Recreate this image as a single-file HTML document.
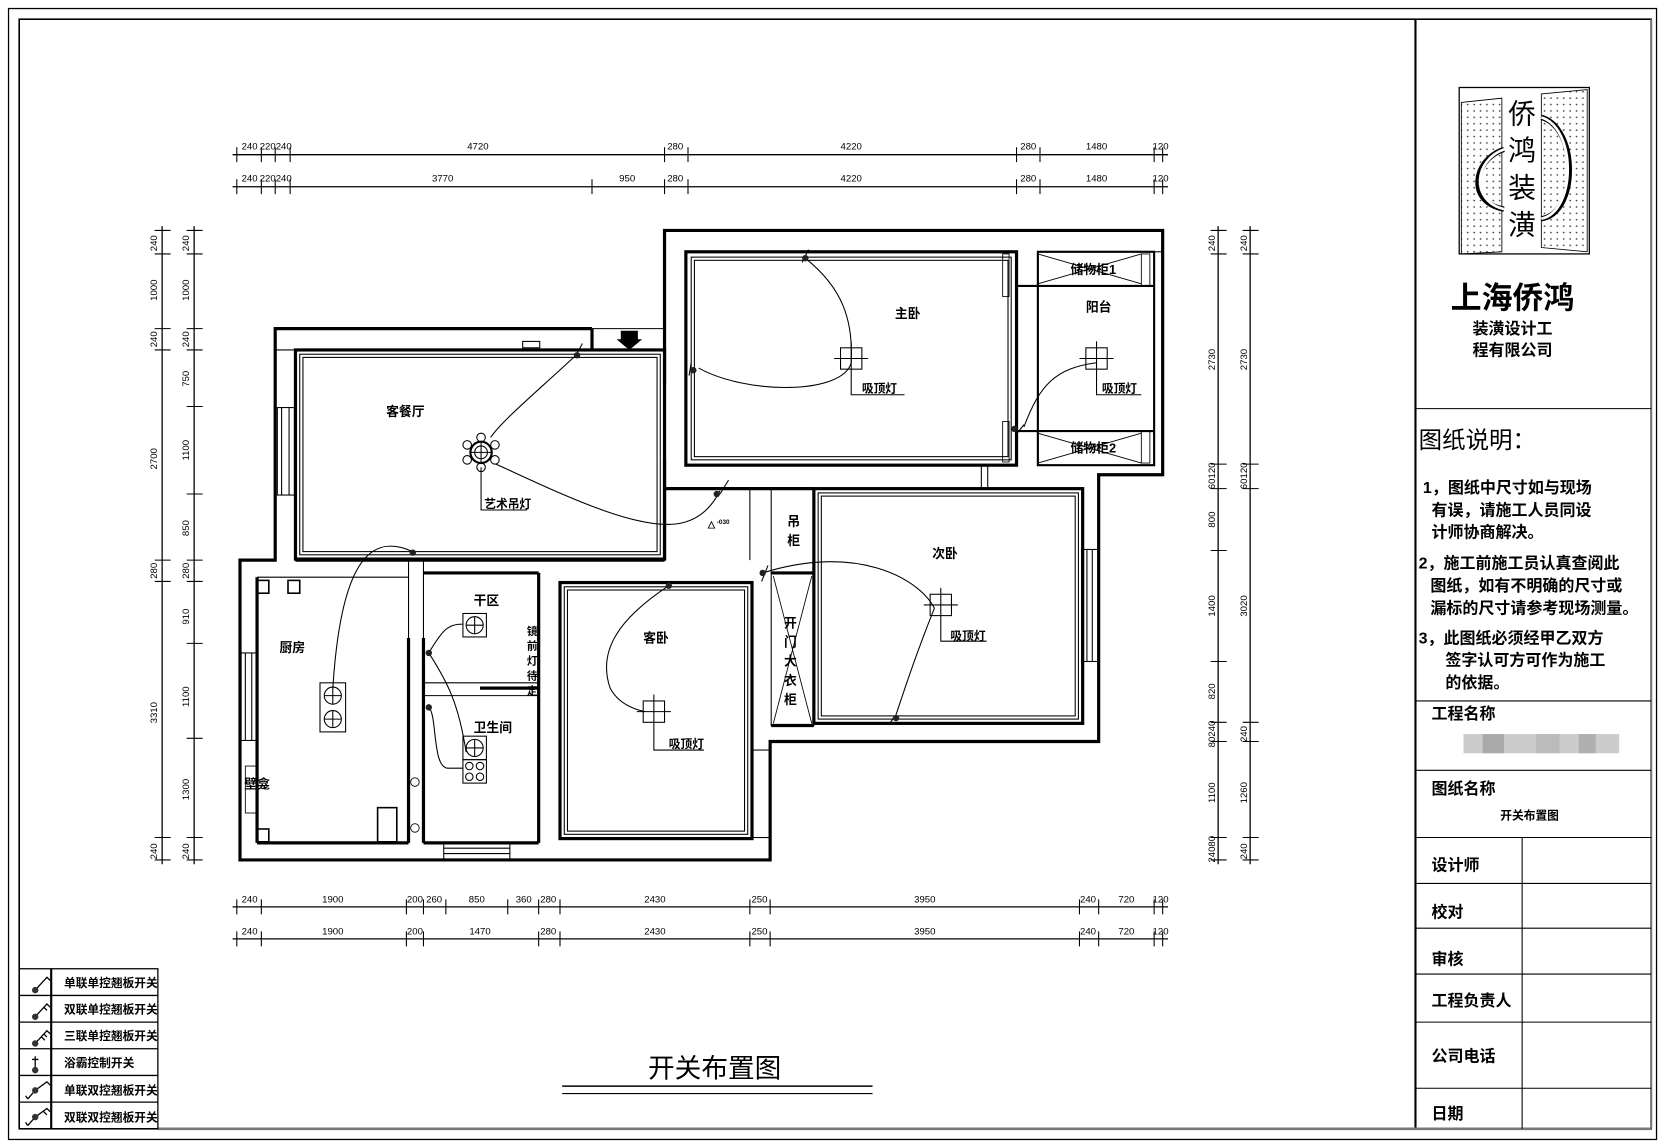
<!DOCTYPE html>
<html><head><meta charset="utf-8"><style>
html,body{margin:0;padding:0;background:#fff;}
svg{display:block;}
text{font-family:"Liberation Sans","Noto Sans CJK SC",sans-serif;fill:#000;}
.b{font-weight:bold;}
</style></head><body>
<svg width="1664" height="1148" viewBox="0 0 1560 1076" preserveAspectRatio="none" xmlns="http://www.w3.org/2000/svg">
<rect x="0" y="0" width="1560" height="1076" fill="#fff"/>
<!-- frames -->
<rect x="8" y="8" width="1545" height="1060" fill="none" stroke="#000" stroke-width="1.2"/>
<rect x="18" y="18" width="1530" height="1040" fill="none" stroke="#000" stroke-width="1.5"/>
<line x1="1327" y1="18" x2="1327" y2="1058" stroke="#000" stroke-width="2"/>
<line x1="1548" y1="18" x2="1548" y2="1058" stroke="#777" stroke-width="2"/>
<line x1="148" y1="1058" x2="1548" y2="1058" stroke="#777" stroke-width="2.5"/>
<!-- title block -->
<g stroke="#000" stroke-width="1">
<line x1="1327" y1="383" x2="1548" y2="383"/>
<line x1="1327" y1="657" x2="1548" y2="657"/>
<line x1="1327" y1="722" x2="1548" y2="722"/>
<line x1="1327" y1="785" x2="1548" y2="785"/>
<line x1="1327" y1="828" x2="1548" y2="828"/>
<line x1="1327" y1="870" x2="1548" y2="870"/>
<line x1="1327" y1="913" x2="1548" y2="913"/>
<line x1="1327" y1="958" x2="1548" y2="958"/>
<line x1="1327" y1="1020" x2="1548" y2="1020"/>
<line x1="1427" y1="785" x2="1427" y2="1058"/>
</g>
<!-- logo -->
<defs><pattern id="dots" width="6" height="6" patternUnits="userSpaceOnUse"><circle cx="2" cy="2" r="0.8" fill="#444"/></pattern></defs>
<rect x="1368" y="82" width="122" height="156" fill="none" stroke="#000" stroke-width="1.2"/>
<polygon points="1370,96 1408,92 1408,236 1370,238" fill="url(#dots)" stroke="#000" stroke-width="0.8"/>
<polygon points="1445,88 1488,84 1488,236 1445,232" fill="url(#dots)" stroke="#000" stroke-width="0.8"/>
<path d="M1410,140 C1380,150 1375,190 1410,196" fill="none" stroke="#000" stroke-width="5"/>
<path d="M1445,110 C1480,120 1480,200 1445,205" fill="none" stroke="#000" stroke-width="5"/>
<path d="M1410,140 C1382,150 1378,188 1410,196" fill="none" stroke="#fff" stroke-width="2.5"/>
<path d="M1445,110 C1478,120 1478,198 1445,205" fill="none" stroke="#fff" stroke-width="2.5"/>
<text x="1427" y="116" font-size="26" text-anchor="middle">侨</text>
<text x="1427" y="150" font-size="26" text-anchor="middle">鸿</text>
<text x="1427" y="185" font-size="26" text-anchor="middle">装</text>
<text x="1427" y="220" font-size="26" text-anchor="middle">潢</text>
<text x="1418" y="289" font-size="29" class="b" text-anchor="middle">上海侨鸿</text>
<text x="1418" y="313" font-size="15" class="b" text-anchor="middle">装潢设计工</text>
<text x="1418" y="333" font-size="15" class="b" text-anchor="middle">程有限公司</text>
<text x="1330" y="420" font-size="22">图纸说明：</text>
<g font-size="15" class="b">
<text x="1334" y="462">1，图纸中尺寸如与现场</text>
<text x="1342" y="483">有误，请施工人员同设</text>
<text x="1342" y="504">计师协商解决。</text>
<text x="1330" y="533">2，施工前施工员认真查阅此</text>
<text x="1341" y="554">图纸，如有不明确的尺寸或</text>
<text x="1341" y="575">漏标的尺寸请参考现场测量。</text>
<text x="1330" y="603">3，此图纸必须经甲乙双方</text>
<text x="1355" y="624">签字认可方可作为施工</text>
<text x="1355" y="645">的依据。</text>
<text x="1342" y="674">工程名称</text>
<text x="1342" y="744">图纸名称</text>
<text x="1342" y="816">设计师</text>
<text x="1342" y="860">校对</text>
<text x="1342" y="904">审核</text>
<text x="1342" y="943">工程负责人</text>
<text x="1342" y="995">公司电话</text>
<text x="1342" y="1049">日期</text>
</g>
<rect x="1372" y="688" width="146" height="18" fill="#ccc"/>
<rect x="1390" y="688" width="20" height="18" fill="#aaa"/><rect x="1440" y="688" width="22" height="18" fill="#bbb"/><rect x="1480" y="688" width="16" height="18" fill="#b0b0b0"/>
<text x="1434" y="768" font-size="11" class="b" text-anchor="middle">开关布置图</text>

<!-- legend -->
<g stroke="#000" stroke-width="1.2" fill="none">
<rect x="18" y="908" width="130" height="150"/>
<line x1="48" y1="908" x2="48" y2="1058" stroke-width="2"/>
<line x1="18" y1="933" x2="148" y2="933"/><line x1="18" y1="958" x2="148" y2="958"/>
<line x1="18" y1="983" x2="148" y2="983"/><line x1="18" y1="1008" x2="148" y2="1008"/>
<line x1="18" y1="1033" x2="148" y2="1033"/>
<path d="M33,928 L44,916 L47,919"/><path d="M33,953 L44,941 L47,944 M41,944 L44,947"/>
<path d="M33,978 L44,966 L47,969 M41,969 L44,972 M39,972 L42,975"/>
<path d="M33,990 L33,1002 M30,993 L36,993"/>
<path d="M26,1030 L33,1022 L44,1014 L47,1017 M26,1030 L24,1027"/>
<path d="M26,1055 L33,1047 L44,1039 L47,1042 M41,1042 L44,1045 M26,1055 L24,1052"/>
</g>
<g fill="#333"><circle cx="33" cy="928" r="3"/><circle cx="33" cy="953" r="3"/><circle cx="33" cy="978" r="3"/><circle cx="33" cy="1003" r="3"/><circle cx="33" cy="1022" r="3"/><circle cx="33" cy="1047" r="3"/></g>
<g font-size="11" class="b">
<text x="60" y="925">单联单控翘板开关</text><text x="60" y="950">双联单控翘板开关</text>
<text x="60" y="975">三联单控翘板开关</text><text x="60" y="1000">浴霸控制开关</text>
<text x="60" y="1026">单联双控翘板开关</text><text x="60" y="1051">双联双控翘板开关</text>
</g>
<text x="670" y="1010" font-size="25" text-anchor="middle">开关布置图</text>
<line x1="527" y1="1018" x2="818" y2="1018" stroke="#000" stroke-width="1.5"/>
<line x1="527" y1="1025" x2="818" y2="1025" stroke="#000" stroke-width="1"/>

<!-- dimensions -->
<g stroke="#000" stroke-width="1.2">
<line x1="218" y1="145" x2="1095" y2="145"/><line x1="218" y1="175" x2="1095" y2="175"/>
<line x1="218" y1="850" x2="1095" y2="850"/><line x1="218" y1="880" x2="1095" y2="880"/>
<line x1="152" y1="212" x2="152" y2="810"/><line x1="182" y1="212" x2="182" y2="810"/>
<line x1="1142" y1="212" x2="1142" y2="810"/><line x1="1172" y1="212" x2="1172" y2="810"/>
</g>
<g stroke="#000" stroke-width="1">
<path d="M222,138V152M245,138V152M258,138V152M272,138V152M623,138V152M645,138V152M953,138V152M975,138V152M1082,138V152M1090,138V152"/>
<path d="M222,168V182M245,168V182M258,168V182M272,168V182M555,168V182M623,168V182M645,168V182M953,168V182M975,168V182M1082,168V182M1090,168V182"/>
<path d="M222,843V857M245,843V857M381,843V857M397,843V857M418,843V857M476,843V857M505,843V857M525,843V857M703,843V857M722,843V857M1012,843V857M1030,843V857M1082,843V857M1090,843V857"/>
<path d="M222,873V887M245,873V887M381,873V887M397,873V887M505,873V887M525,873V887M703,873V887M722,873V887M1012,873V887M1030,873V887M1082,873V887M1090,873V887"/>
<path d="M145,216H160M145,238H160M145,308H160M145,328H160M145,525H160M145,545H160M145,785H160M145,806H160"/>
<path d="M175,216H190M175,238H190M175,308H190M175,328H190M175,381H190M175,463H190M175,525H190M175,545H190M175,603H190M175,692H190M175,785H190M175,806H190"/>
<path d="M1135,216H1150M1135,238H1150M1135,435H1150M1135,458H1150M1135,516H1150M1135,620H1150M1135,677H1150M1135,695H1150M1135,785H1150M1135,806H1150"/>
<path d="M1165,216H1180M1165,238H1180M1165,435H1180M1165,458H1180M1165,677H1180M1165,695H1180M1165,785H1180M1165,806H1180"/>
</g>
<g font-size="9" text-anchor="middle">
<text x="234" y="140">240</text><text x="251" y="140">220</text><text x="266" y="140">240</text><text x="448" y="140">4720</text><text x="633" y="140">280</text><text x="798" y="140">4220</text><text x="964" y="140">280</text><text x="1028" y="140">1480</text><text x="1088" y="140">120</text>
<text x="234" y="170">240</text><text x="251" y="170">220</text><text x="266" y="170">240</text><text x="415" y="170">3770</text><text x="588" y="170">950</text><text x="633" y="170">280</text><text x="798" y="170">4220</text><text x="964" y="170">280</text><text x="1028" y="170">1480</text><text x="1088" y="170">120</text>
<text x="234" y="846">240</text><text x="312" y="846">1900</text><text x="389" y="846">200</text><text x="407" y="846">260</text><text x="447" y="846">850</text><text x="491" y="846">360</text><text x="514" y="846">280</text><text x="614" y="846">2430</text><text x="712" y="846">250</text><text x="867" y="846">3950</text><text x="1020" y="846">240</text><text x="1056" y="846">720</text><text x="1088" y="846">120</text>
<text x="234" y="876">240</text><text x="312" y="876">1900</text><text x="389" y="876">200</text><text x="450" y="876">1470</text><text x="514" y="876">280</text><text x="614" y="876">2430</text><text x="712" y="876">250</text><text x="867" y="876">3950</text><text x="1020" y="876">240</text><text x="1056" y="876">720</text><text x="1088" y="876">120</text>
</g>
<g font-size="9" text-anchor="middle">
<text transform="translate(147,228) rotate(-90)">240</text><text transform="translate(147,272) rotate(-90)">1000</text><text transform="translate(147,318) rotate(-90)">240</text><text transform="translate(147,430) rotate(-90)">2700</text><text transform="translate(147,535) rotate(-90)">280</text><text transform="translate(147,668) rotate(-90)">3310</text><text transform="translate(147,798) rotate(-90)">240</text>
<text transform="translate(177,228) rotate(-90)">240</text><text transform="translate(177,272) rotate(-90)">1000</text><text transform="translate(177,318) rotate(-90)">240</text><text transform="translate(177,355) rotate(-90)">750</text><text transform="translate(177,422) rotate(-90)">1100</text><text transform="translate(177,495) rotate(-90)">850</text><text transform="translate(177,535) rotate(-90)">280</text><text transform="translate(177,578) rotate(-90)">910</text><text transform="translate(177,653) rotate(-90)">1100</text><text transform="translate(177,740) rotate(-90)">1300</text><text transform="translate(177,798) rotate(-90)">240</text>
<text transform="translate(1139,228) rotate(-90)">240</text><text transform="translate(1139,337) rotate(-90)">2730</text><text transform="translate(1139,446) rotate(-90)">60120</text><text transform="translate(1139,487) rotate(-90)">800</text><text transform="translate(1139,568) rotate(-90)">1400</text><text transform="translate(1139,648) rotate(-90)">820</text><text transform="translate(1139,688) rotate(-90)">80240</text><text transform="translate(1139,743) rotate(-90)">1100</text><text transform="translate(1139,796) rotate(-90)">24080</text>
<text transform="translate(1169,228) rotate(-90)">240</text><text transform="translate(1169,337) rotate(-90)">2730</text><text transform="translate(1169,446) rotate(-90)">60120</text><text transform="translate(1169,568) rotate(-90)">3020</text><text transform="translate(1169,688) rotate(-90)">240</text><text transform="translate(1169,743) rotate(-90)">1260</text><text transform="translate(1169,798) rotate(-90)">240</text>
</g>

<!-- walls -->
<g fill="none" stroke="#000" stroke-width="3">
<polyline points="555,308 258,308 258,525 225,525 225,806 722,806 722,695 1030,695 1030,445 1090,445 1090,216 623,216 623,360"/>
<line x1="555" y1="308" x2="555" y2="328"/>
<line x1="623" y1="430" x2="623" y2="525"/>
<line x1="623" y1="458" x2="763" y2="458"/>
<line x1="277" y1="525" x2="623" y2="525"/>
<line x1="241" y1="541" x2="241" y2="790"/>
<line x1="241" y1="790" x2="383" y2="790"/>
<line x1="383" y1="598" x2="383" y2="790"/><line x1="397" y1="598" x2="397" y2="790"/>
<line x1="397" y1="537" x2="505" y2="537"/><line x1="505" y1="537" x2="505" y2="790"/>
<line x1="397" y1="790" x2="505" y2="790"/>
<line x1="450" y1="645" x2="505" y2="645"/>
<line x1="723" y1="537" x2="763" y2="537"/>
<line x1="723" y1="680" x2="763" y2="680"/>
</g>
<g fill="none" stroke="#000" stroke-width="1">
<line x1="258" y1="328" x2="277" y2="328"/>
<line x1="555" y1="308" x2="623" y2="308"/>
<line x1="555" y1="328" x2="623" y2="328"/>
<line x1="383" y1="525" x2="383" y2="598"/><line x1="397" y1="525" x2="397" y2="598"/>
<line x1="397" y1="640" x2="505" y2="640"/><line x1="397" y1="652" x2="505" y2="652"/>
<line x1="703" y1="458" x2="703" y2="525"/><line x1="723" y1="458" x2="723" y2="537"/>
<line x1="241" y1="541" x2="383" y2="541"/>
<rect x="260" y="382" width="16" height="82"/><line x1="264" y1="382" x2="264" y2="464"/><line x1="271" y1="382" x2="271" y2="464"/>
<rect x="226" y="612" width="15" height="82"/><line x1="230" y1="612" x2="230" y2="694"/><line x1="236" y1="612" x2="236" y2="694"/>
<rect x="416" y="790" width="62" height="16"/><line x1="416" y1="795" x2="478" y2="795"/><line x1="416" y1="800" x2="478" y2="800"/>
<rect x="705" y="703" width="17" height="82"/>
<rect x="1014" y="515" width="16" height="105"/><line x1="1019" y1="515" x2="1019" y2="620"/><line x1="1024" y1="515" x2="1024" y2="620"/>
<rect x="490" y="320" width="16" height="6"/>
</g>
<polygon points="582,310 598,310 598,318 602,318 590,328 578,318 582,318" fill="#000"/>
<!-- rooms double outlines -->
<g fill="none" stroke="#000">
<rect x="277" y="328" width="346" height="196" stroke-width="3"/>
<rect x="281" y="332" width="338" height="188" stroke-width="1"/>
<rect x="284" y="335" width="332" height="182" stroke-width="1"/>
<rect x="643" y="236" width="310" height="200" stroke-width="3"/>
<rect x="648" y="241" width="300" height="190" stroke-width="1"/>
<rect x="651" y="244" width="294" height="184" stroke-width="1"/>
<rect x="973" y="236" width="109" height="200" stroke-width="2"/>
<line x1="1082" y1="236" x2="1090" y2="236" stroke-width="1"/>
<line x1="973" y1="268" x2="1082" y2="268" stroke-width="2"/>
<line x1="973" y1="404" x2="1082" y2="404" stroke-width="2"/>
<path d="M973,238 L1070,266 M973,266 L1070,238 M973,406 L1070,434 M973,434 L1070,406" stroke-width="0.8"/>
<line x1="953" y1="268" x2="973" y2="268" stroke-width="2"/><line x1="953" y1="404" x2="973" y2="404" stroke-width="2"/>
<rect x="1070" y="238" width="8" height="30" stroke-width="0.8"/><rect x="1070" y="404" width="8" height="30" stroke-width="0.8"/>
<rect x="940" y="238" width="6" height="40" stroke-width="0.8"/><rect x="940" y="395" width="6" height="38" stroke-width="0.8"/>
<line x1="1082" y1="240" x2="1082" y2="436" stroke-width="1"/>
<rect x="763" y="458" width="252" height="220" stroke-width="3"/>
<rect x="767" y="462" width="244" height="212" stroke-width="1"/>
<rect x="770" y="465" width="238" height="206" stroke-width="1"/>
<rect x="525" y="546" width="180" height="240" stroke-width="3"/>
<rect x="529" y="550" width="172" height="232" stroke-width="1"/>
<rect x="532" y="553" width="166" height="226" stroke-width="1"/>
<rect x="723" y="537" width="40" height="143" stroke-width="1"/>
<path d="M725,540 L761,678 M761,540 L725,678" stroke-width="0.8"/>
<line x1="920" y1="436" x2="920" y2="458" stroke-width="1"/><line x1="926" y1="436" x2="926" y2="458" stroke-width="1"/>
<rect x="241" y="544" width="11" height="12" stroke-width="1.5"/>
<rect x="270" y="544" width="11" height="12" stroke-width="1.5"/>
<rect x="241" y="777" width="11" height="12" stroke-width="1.5"/>
<rect x="230" y="718" width="11" height="44" stroke-width="0.8"/>
<rect x="354" y="757" width="18" height="32" stroke-width="1.5"/>
<circle cx="389" cy="733" r="4" stroke-width="0.8"/><circle cx="389" cy="776" r="4" stroke-width="0.8"/>
</g>
<!-- lights -->
<g fill="none" stroke="#000" stroke-width="1">
<rect x="788" y="326" width="20" height="20"/><path d="M798,320V346M782,336H814M798,346V370H848"/>
<rect x="1018" y="326" width="20" height="20"/><path d="M1028,320V346M1012,336H1044M1028,346V370H1070"/>
<rect x="872" y="557" width="20" height="20"/><path d="M882,551V577M866,567H898M882,577V601H925"/>
<rect x="603" y="657" width="20" height="20"/><path d="M613,651V677M597,667H629M613,677V703H660"/>
<rect x="434" y="575" width="22" height="22"/><circle cx="445" cy="586" r="8"/><path d="M445,578V594M437,586H453"/>
<rect x="434" y="690" width="22" height="22"/><circle cx="445" cy="701" r="8"/><path d="M445,693V709M437,701H453"/>
<rect x="434" y="712" width="22" height="22"/><circle cx="440" cy="718" r="3.5"/><circle cx="450" cy="718" r="3.5"/><circle cx="440" cy="728" r="3.5"/><circle cx="450" cy="728" r="3.5"/>
<rect x="300" y="640" width="24" height="46"/><circle cx="312" cy="652" r="8"/><circle cx="312" cy="674" r="8"/><path d="M312,644V660M304,652H320M312,666V682M304,674H320"/>
<circle cx="451" cy="424" r="10" stroke-width="2"/><circle cx="451" cy="424" r="6"/><path d="M441,424H461M451,414V434"/>
<circle cx="451" cy="410" r="4"/><circle cx="451" cy="438" r="4"/><circle cx="438" cy="417" r="4"/><circle cx="464" cy="417" r="4"/><circle cx="438" cy="431" r="4"/><circle cx="464" cy="431" r="4"/>
<path d="M451,438V478H494"/>
<!-- wires -->
<path d="M541,332 C500,370 470,395 460,410"/>
<path d="M465,435 C520,460 600,500 640,490 C660,485 670,470 675,460"/>
<path d="M755,242 C790,270 800,300 798,340 C790,370 700,370 655,345"/>
<path d="M1028,340 C990,345 975,360 960,400"/>
<path d="M715,537 C800,510 860,540 876,570 C860,610 850,640 840,670"/>
<path d="M387,517 C350,500 320,520 312,645"/>
<path d="M402,612 C415,590 420,585 434,585"/>
<path d="M402,612 C420,640 430,660 437,705"/>
<path d="M402,663 C410,670 405,720 420,720 H434"/>
<path d="M627,549 C580,580 560,610 572,645 C580,660 595,665 605,667"/>
<path d="M683,450 L675,463 M546,322 L540,333 M758,234 L752,246 M648,340 L646,352 M960,398 L952,408 M720,530 L714,545 M840,670 L834,678"/>
</g>
<g fill="#222">
<circle cx="541" cy="333" r="3"/><circle cx="755" cy="242" r="3"/><circle cx="650" cy="347" r="3"/><circle cx="672" cy="463" r="3"/>
<circle cx="387" cy="518" r="3"/><circle cx="402" cy="612" r="3"/><circle cx="402" cy="663" r="3"/><circle cx="627" cy="549" r="3"/>
<circle cx="715" cy="537" r="3"/><circle cx="840" cy="673" r="3"/><circle cx="951" cy="402" r="3"/>
</g>
<polygon points="664,495 670,495 667,489" fill="none" stroke="#000" stroke-width="0.8"/>
<text x="672" y="491" font-size="6" class="b">-030</text>
<!-- labels -->
<g font-size="12" class="b" text-anchor="middle">
<text x="380" y="390">客餐厅</text>
<text x="851" y="298">主卧</text>
<text x="1030" y="292">阳台</text>
<text x="1025" y="257">储物柜1</text>
<text x="1025" y="424">储物柜2</text>
<text x="886" y="523">次卧</text>
<text x="615" y="602">客卧</text>
<text x="274" y="611">厨房</text>
<text x="456" y="567">干区</text>
<text x="462" y="686">卫生间</text>
<text x="241" y="739">壁龛</text>
<text x="744" y="493">吊</text><text x="744" y="511">柜</text>
<text x="741" y="588">开</text><text x="741" y="606">门</text><text x="741" y="624">大</text><text x="741" y="642">衣</text><text x="741" y="660">柜</text>
</g>
<g font-size="10" class="b" text-anchor="middle">
<text x="499" y="595">镜</text><text x="499" y="609">前</text><text x="499" y="623">灯</text><text x="499" y="637">待</text><text x="499" y="651">定</text>
</g>
<g font-size="11" class="b">
<text x="454" y="476">艺术吊灯</text>
<text x="808" y="368">吸顶灯</text>
<text x="1033" y="368">吸顶灯</text>
<text x="891" y="600">吸顶灯</text>
<text x="627" y="701">吸顶灯</text>
</g>
</svg>
</body></html>
